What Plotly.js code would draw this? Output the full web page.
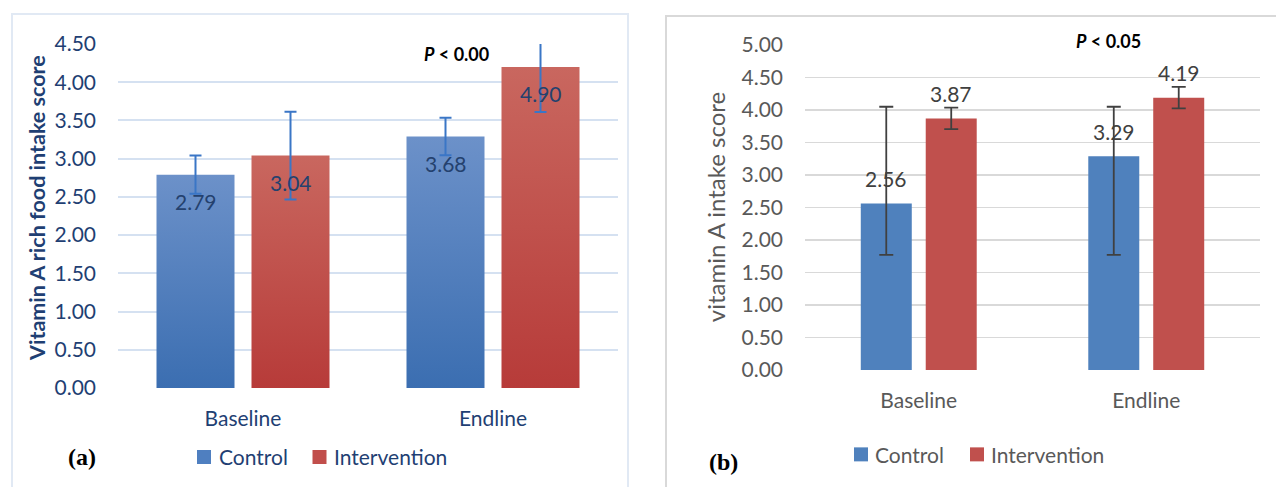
<!DOCTYPE html>
<html><head><meta charset="utf-8">
<script src="https://cdn.plot.ly/plotly-3.0.1.min.js"></script>
<style>
html,body{margin:0;padding:0;background:#fff;}
#wrap{position:relative;width:1276px;height:487px;overflow:hidden;background:#fff;}
#chartA{position:absolute;left:0;top:0;width:640px;height:487px;}
#chartB{position:absolute;left:640px;top:0;width:636px;height:487px;}
.frame{position:absolute;pointer-events:none;box-sizing:border-box;}
#frameA{left:11px;top:13px;width:618px;height:500px;border:2px solid #e1e9f4;}
#frameB{left:665px;top:15px;width:640px;height:500px;border:2px solid #d9d9d9;}
</style></head>
<body><div id="wrap"><div id="frameA" class="frame"></div><div id="frameB" class="frame"></div><div id="chartA"></div><div id="chartB"></div></div>
<script>
// ---------- data ----------
const categories = ['Baseline', 'Endline'];
const seriesNames = ['Control', 'Intervention'];

// panel (a)
const aControl = [2.79, 3.29];
const aIntervention = [3.04, 4.20];
const aControlErr = [0.25, 0.245];
const aInterventionErr = [0.575, 0.59];
const aControlLabels = ['2.79', '3.68'];
const aInterventionLabels = ['3.04', '4.90'];
const aYTicks = [0, 0.5, 1, 1.5, 2, 2.5, 3, 3.5, 4, 4.5];
const aTitle = 'Vitamin A rich food intake score';
const aPText = '<b><i>P</i> &lt; 0.00</b>';

// panel (b)
const bControl = [2.56, 3.29];
const bIntervention = [3.87, 4.19];
const bControlErrPlus = [1.49, 0.76];
const bControlErrMinus = [0.79, 1.52];
const bInterventionErr = [0.165, 0.165];
const bControlLabels = ['2.56', '3.29'];
const bInterventionLabels = ['3.87', '4.19'];
const bYTicks = [0, 0.5, 1, 1.5, 2, 2.5, 3, 3.5, 4, 4.5, 5];
const bTitle = 'vitamin A intake score';
const bPText = '<b><i>P</i> &lt; 0.05</b>';

// ---------- helpers ----------
const FAM = 'Lato, "Open Sans", sans-serif';
const SERIF = '"Liberation Serif", "DejaVu Serif", serif';
function P(g){ // pixel -> paper converter
  const w = g.W - g.l - g.r, h = g.H - g.t - g.b;
  return {x: px => (px - g.l) / w, y: py => (g.H - g.b - py) / h};
}
function txt(c, text, px, py, font, extra){
  return Object.assign({xref:'paper', yref:'paper', x:c.x(px), y:c.y(py), text:text,
    showarrow:false, font:font, xanchor:'center', yanchor:'middle'}, extra||{});
}
function sq(c, px, py, color){
  return {type:'rect', xref:'paper', yref:'paper', xsizemode:'pixel', ysizemode:'pixel',
    xanchor:c.x(px), yanchor:c.y(py), x0:-7, x1:7, y0:-7, y1:7, fillcolor:color, line:{width:0}};
}
function labelAnns(vals, labels, side, offset, yshift, font){
  return vals.map((v, j) => ({xref:'x', yref:'y', x:categories[j], y:v, text:labels[j],
    xshift: side * offset, yshift: yshift, showarrow:false, font:font, xanchor:'center', yanchor:'middle'}));
}

// ---------- panel (a) ----------
const GA = {W:640, H:487, l:118, r:22, t:44, b:99};
const cA = P(GA);
const aBargap = 0.24;
const aOff = (GA.W - GA.l - GA.r) / categories.length * (1 - aBargap) / 4;
const blueA = '#1f3f73';
const aFontTick = {family:FAM, size:21, color:blueA};
const dataA = [
  {type:'bar', name:seriesNames[0], x:categories, y:aControl, marker:{color:'#5282c0'},
   error_y:{type:'data', array:aControlErr, visible:true, color:'#3a76c6', thickness:2, width:6}},
  {type:'bar', name:seriesNames[1], x:categories, y:aIntervention, marker:{color:'#c14f4c'},
   error_y:{type:'data', array:aInterventionErr, visible:true, color:'#3a76c6', thickness:2, width:6}}
];
const layoutA = {
  width:GA.W, height:GA.H, margin:{l:GA.l, r:GA.r, t:GA.t, b:GA.b, pad:0},
  paper_bgcolor:'rgba(0,0,0,0)', plot_bgcolor:'rgba(0,0,0,0)',
  barmode:'group', bargap:aBargap, bargroupgap:0.179, showlegend:false,
  xaxis:{type:'category', showgrid:false, showline:false, zeroline:false, ticks:'',
    tickfont:aFontTick, ticklabelstandoff:16},
  yaxis:{range:[0,4.5], tickvals:aYTicks, ticktext:aYTicks.map(v=>v.toFixed(2)),
    showgrid:true, gridcolor:'#d5e1f1', gridwidth:2, zeroline:false, showline:false, ticks:'',
    tickfont:aFontTick, ticklabelstandoff:21, fixedrange:true},
  annotations:[
    ...labelAnns(aControl, aControlLabels, -1, aOff, -27, {family:FAM, size:21, color:'#24416e'}),
    ...labelAnns(aIntervention, aInterventionLabels, 1, aOff, -27, {family:FAM, size:21, color:'#24416e'}),
    txt(cA, '<b>' + aTitle + '</b>', 37, 208, {family:FAM, size:21.5, color:'#1f3f73', weight:900}, {textangle:-90}),
    txt(cA, aPText, 456, 54, {family:FAM, size:18, color:'#000'}),
    txt(cA, '<b>(a)</b>', 82, 457, {family:SERIF, size:24, color:'#000'}),
    txt(cA, seriesNames[0], 217, 457, {family:FAM, size:21, color:blueA}, {xanchor:'left'}),
    txt(cA, seriesNames[1], 332, 457, {family:FAM, size:21, color:blueA}, {xanchor:'left'})
  ],
  shapes:[sq(cA, 204, 457, '#4f7fc0'), sq(cA, 319.5, 457, '#c14e4b')]
};

// ---------- panel (b) ----------
const GB = {W:636, H:487, l:165, r:16, t:45, b:116.5};
const cB = P(GB);
const bBargap = 0.429;
const bOff = (GB.W - GB.l - GB.r) / categories.length * (1 - bBargap) / 4;
const greyB = '#595959';
const bFontTick = {family:FAM, size:21, color:greyB};
const dataB = [
  {type:'bar', name:seriesNames[0], x:categories, y:bControl, marker:{color:'#4f81bd'},
   error_y:{type:'data', symmetric:false, array:bControlErrPlus, arrayminus:bControlErrMinus,
     visible:true, color:'#404040', thickness:1.8, width:7}},
  {type:'bar', name:seriesNames[1], x:categories, y:bIntervention, marker:{color:'#c0504d'},
   error_y:{type:'data', array:bInterventionErr, visible:true, color:'#404040', thickness:1.8, width:7}}
];
const layoutB = {
  width:GB.W, height:GB.H, margin:{l:GB.l, r:GB.r, t:GB.t, b:GB.b, pad:0},
  paper_bgcolor:'rgba(0,0,0,0)', plot_bgcolor:'rgba(0,0,0,0)',
  barmode:'group', bargap:bBargap, bargroupgap:0.215, showlegend:false,
  xaxis:{type:'category', showgrid:false, showline:false, zeroline:false, ticks:'',
    tickfont:bFontTick, ticklabelstandoff:16},
  yaxis:{range:[0,5], tickvals:bYTicks, ticktext:bYTicks.map(v=>v.toFixed(2)),
    showgrid:true, gridcolor:'#d9d9d9', gridwidth:1.6, zeroline:false, showline:false, ticks:'',
    tickfont:bFontTick, ticklabelstandoff:21, fixedrange:true},
  annotations:[
    ...labelAnns(bControl, bControlLabels, -1, bOff, 25, {family:FAM, size:21, color:'#404040'}),
    ...labelAnns(bIntervention, bInterventionLabels, 1, bOff, 25, {family:FAM, size:21, color:'#404040'}),
    txt(cB, bTitle, 75, 207.5, {family:FAM, size:24, color:greyB}, {textangle:-90}),
    txt(cB, bPText, 468, 41, {family:FAM, size:18, color:'#000'}),
    txt(cB, '<b>(b)</b>', 83, 463, {family:SERIF, size:24, color:'#000'}),
    txt(cB, seriesNames[0], 233, 455, {family:FAM, size:21, color:greyB}, {xanchor:'left'}),
    txt(cB, seriesNames[1], 349, 455, {family:FAM, size:21, color:greyB}, {xanchor:'left'})
  ],
  shapes:[sq(cB, 221, 455, '#4f81bd'), sq(cB, 337, 455, '#c0504d')]
};

const cfg = {staticPlot:true, displayModeBar:false};
Plotly.newPlot('chartB', dataB, layoutB, cfg);
Plotly.newPlot('chartA', dataA, layoutA, cfg).then(gd => {
  const NS = 'http://www.w3.org/2000/svg';
  const svg = gd.querySelector('svg.main-svg');
  let defs = svg.querySelector('defs');
  if (!defs) { defs = document.createElementNS(NS, 'defs'); svg.insertBefore(defs, svg.firstChild); }
  function grad(id, c1, c2){
    const g = document.createElementNS(NS, 'linearGradient');
    g.setAttribute('id', id); g.setAttribute('x1', '0'); g.setAttribute('y1', '0');
    g.setAttribute('x2', '0'); g.setAttribute('y2', '1');
    [[0, c1], [1, c2]].forEach(([o, c]) => {
      const s = document.createElementNS(NS, 'stop');
      s.setAttribute('offset', o); s.setAttribute('stop-color', c); g.appendChild(s);
    });
    defs.appendChild(g);
  }
  grad('gradCtl', '#6c91c9', '#3b6eb1');
  grad('gradInt', '#c9675f', '#b73b39');
  const ids = ['gradCtl', 'gradInt'];
  gd.querySelectorAll('.barlayer .trace').forEach((t, i) => {
    t.querySelectorAll('.point path').forEach(p => { p.style.fill = 'url(#' + ids[i] + ')'; });
  });
});
</script></body></html>
